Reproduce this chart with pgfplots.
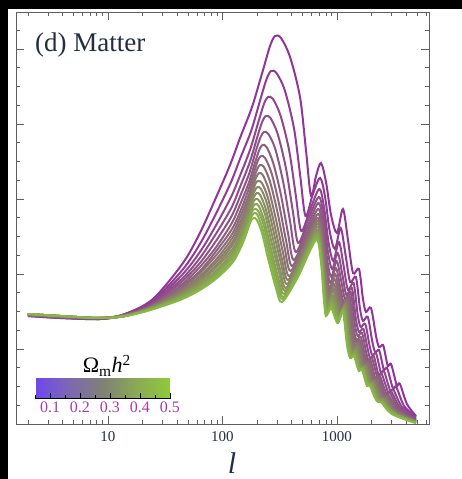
\documentclass[border=0pt]{standalone}
\usepackage{fontspec}
\setmainfont{Liberation Serif}
\usepackage{pgfplots}
\pgfplotsset{compat=1.18}

\definecolor{cP}{RGB}{145,52,155}
\definecolor{cG}{RGB}{134,184,70}
\definecolor{frm}{RGB}{95,95,95}
\definecolor{lab}{RGB}{35,45,70}
\definecolor{cbl}{RGB}{165,60,170}

\pgfplotsset{
  lc/.style={smooth, line width=2pt, no markers},
  /pgf/number format/assume math mode=true,
}

\begin{document}
\begin{tikzpicture}
\useasboundingbox (0,0) rectangle (462pt,479pt);
\fill[black] (0,0) rectangle (8pt,479pt);
\fill[black] (0,470pt) rectangle (462pt,479pt);
\begin{axis}[
  at={(16pt,55pt)}, anchor=south west,
  scale only axis, width=413pt, height=412pt,
  xmode=log, xmin=1.5725, xmax=6362, ymin=0, ymax=412,
  xtick={10,100,1000}, xticklabels={10,100,1000},
  minor xtick={2,3,4,5,6,7,8,9,20,30,40,50,60,70,80,90,200,300,400,500,600,700,800,900,2000,3000,4000,5000,6000},
  ytick={0,75,150,225,300,375}, yticklabels={},
  minor ytick={18.75,37.5,56.25,93.75,112.5,131.25,168.75,187.5,206.25,243.75,262.5,281.25,318.75,337.5,356.25,393.75},
  tick align=inside,
  major tick length=8pt, minor tick length=4.5pt,
  axis line style={draw=frm, line width=0.9pt},
  tick style={draw=frm, line width=0.8pt},
  xticklabel style={font=\fontsize{15}{15}\selectfont, text=lab, yshift=-4pt},
  xlabel={l},
  xlabel style={at={(axis description cs:0.523,-0.119)}, anchor=base, font=\fontsize{30}{30}\selectfont\itshape, text=lab},
  colormap={cbar}{rgb255=(112,70,240) rgb255=(124,104,178) rgb255=(128,128,118) rgb255=(138,170,84) rgb255=(142,202,60)},
  colorbar horizontal,
  colorbar/width=20pt,
  point meta min=0.05, point meta max=0.5,
  colorbar style={
    at={(parent axis.south west)}, anchor=south west, xshift=19pt, yshift=34pt,
    scale only axis, width=135pt,
    axis x line*=bottom, axis y line=none,
    xtick={0.1,0.2,0.3,0.4,0.5}, minor xtick={0.05,0.15,0.25,0.35,0.45},
    xtick align=inside,
    major tick length=6pt, minor tick length=3.5pt,
    tick style={black, line width=0.9pt},
    axis line style={black, line width=1.1pt},
    xticklabel style={font=\fontsize{16}{16}\selectfont, text=cbl,
      /pgf/number format/fixed, /pgf/number format/precision=1},
  },
]
% Omega_m h^2 = 0.1 (top, purple) ... 0.5 (bottom, green); x column is log10(l)
\addplot[lc, draw=cP] table[x expr=10^\thisrowno{0}, y index=1] {
0.301 108
0.581 106
0.930 105
1.148 110
1.393 125
1.655 161
1.803 191
1.934 224
2.066 259
2.153 286
2.258 317
2.354 354
2.415 378
2.459 388
2.511 386
2.590 367
2.677 327
2.729 274
2.773 228
2.817 248
2.860 261
2.904 242
2.948 209
3.000 191
3.052 215
3.096 184
3.140 151
3.192 155
3.227 125
3.253 112
3.297 116
3.341 88
3.367 77
3.402 79
3.428 66
3.445 58
3.472 60
3.507 45
3.524 38
3.550 40
3.611 20
3.690 8
};
\addplot[lc, draw=cG!6!cP] table[x expr=10^\thisrowno{0}, y index=1] {
0.301 108
0.581 106
0.930 105
1.148 110
1.388 123
1.650 154
1.803 180
1.937 209
2.071 241
2.156 266
2.250 293
2.332 325
2.385 345
2.424 353
2.471 351
2.543 334
2.624 296
2.679 248
2.725 208
2.787 229
2.852 246
2.896 227
2.936 193
2.982 175
3.032 196
3.075 169
3.115 142
3.165 147
3.200 116
3.227 103
3.269 107
3.309 82
3.334 72
3.367 74
3.393 62
3.410 54
3.437 56
3.474 41
3.492 35
3.518 37
3.586 18
3.690 7
};
\addplot[lc, draw=cG!13!cP] table[x expr=10^\thisrowno{0}, y index=1] {
0.301 109
0.581 107
0.930 105
1.148 109
1.384 121
1.646 149
1.803 172
1.940 198
2.075 227
2.159 250
2.243 275
2.316 303
2.362 320
2.397 327
2.441 325
2.508 308
2.583 273
2.641 228
2.688 193
2.764 214
2.846 235
2.889 215
2.927 181
2.968 163
3.017 182
3.058 158
3.096 134
3.145 141
3.180 110
3.206 97
3.247 100
3.285 78
3.308 69
3.340 71
3.367 59
3.384 51
3.410 53
3.448 39
3.468 33
3.494 34
3.567 17
3.690 6
};
\addplot[lc, draw=cG!19!cP] table[x expr=10^\thisrowno{0}, y index=1] {
0.301 109
0.581 107
0.930 105
1.148 109
1.382 120
1.644 145
1.803 166
1.942 190
2.077 216
2.160 239
2.239 262
2.304 287
2.346 302
2.378 308
2.419 306
2.482 290
2.554 256
2.614 213
2.662 181
2.747 204
2.841 227
2.885 207
2.921 172
2.958 155
3.006 171
3.046 150
3.082 129
3.130 136
3.165 105
3.192 92
3.231 95
3.268 75
3.290 66
3.321 68
3.347 56
3.364 49
3.391 50
3.430 37
3.451 31
3.477 32
3.553 16
3.690 5
};
\addplot[lc, draw=cG!25!cP] table[x expr=10^\thisrowno{0}, y index=1] {
0.301 109
0.581 107
0.930 106
1.148 109
1.379 119
1.641 142
1.803 161
1.943 183
2.080 208
2.162 230
2.235 251
2.294 274
2.333 287
2.362 292
2.401 290
2.461 275
2.530 242
2.591 202
2.640 172
2.734 195
2.837 221
2.881 200
2.915 164
2.950 147
2.997 163
3.037 143
3.071 125
3.119 132
3.154 101
3.180 88
3.219 91
3.254 72
3.275 64
3.305 66
3.332 55
3.349 48
3.375 48
3.415 35
3.437 30
3.463 31
3.542 15
3.690 4
};
\addplot[lc, draw=cG!31!cP] table[x expr=10^\thisrowno{0}, y index=1] {
0.301 109
0.581 107
0.930 106
1.148 109
1.377 118
1.639 139
1.803 157
1.945 177
2.082 201
2.163 222
2.232 242
2.286 262
2.321 274
2.349 279
2.385 277
2.443 261
2.509 230
2.572 191
2.621 164
2.722 187
2.834 215
2.878 194
2.911 158
2.942 141
2.990 156
3.028 137
3.061 121
3.108 129
3.143 97
3.170 84
3.208 87
3.241 70
3.262 63
3.292 64
3.318 53
3.335 46
3.362 47
3.402 34
3.424 28
3.450 29
3.532 14
3.690 4
};
\addplot[lc, draw=cG!38!cP] table[x expr=10^\thisrowno{0}, y index=1] {
0.301 109
0.581 107
0.930 106
1.148 109
1.376 118
1.638 137
1.803 153
1.946 173
2.083 195
2.164 215
2.229 235
2.279 253
2.311 264
2.338 268
2.372 266
2.428 251
2.492 221
2.556 183
2.606 158
2.713 181
2.832 210
2.875 189
2.907 153
2.937 136
2.983 150
3.021 133
3.054 118
3.100 127
3.135 95
3.161 82
3.199 84
3.231 68
3.252 61
3.281 63
3.307 52
3.324 45
3.351 46
3.392 33
3.414 27
3.440 28
3.525 13
3.690 3
};
\addplot[lc, draw=cG!44!cP] table[x expr=10^\thisrowno{0}, y index=1] {
0.301 109
0.581 107
0.930 106
1.148 109
1.375 117
1.637 135
1.803 151
1.947 169
2.084 190
2.165 210
2.227 228
2.273 245
2.304 255
2.328 259
2.362 257
2.416 242
2.478 213
2.543 176
2.593 153
2.705 176
2.829 206
2.873 185
2.904 149
2.932 132
2.978 145
3.016 129
3.047 116
3.093 125
3.128 92
3.154 79
3.191 82
3.223 67
3.243 60
3.271 61
3.298 50
3.315 44
3.341 44
3.383 32
3.406 27
3.432 27
3.518 13
3.690 3
};
\addplot[lc, draw=cG!50!cP] table[x expr=10^\thisrowno{0}, y index=1] {
0.301 110
0.581 108
0.930 106
1.148 108
1.373 117
1.635 133
1.803 148
1.948 165
2.086 186
2.166 205
2.225 223
2.268 239
2.296 247
2.320 251
2.352 249
2.405 234
2.466 205
2.531 170
2.582 148
2.698 172
2.828 203
2.871 182
2.901 145
2.928 128
2.973 140
3.011 125
3.041 113
3.086 123
3.121 90
3.148 77
3.185 80
3.216 65
3.235 59
3.263 60
3.290 49
3.307 43
3.333 43
3.375 31
3.399 26
3.425 26
3.512 12
3.690 3
};
\addplot[lc, draw=cG!56!cP] table[x expr=10^\thisrowno{0}, y index=1] {
0.301 110
0.581 108
0.930 106
1.148 108
1.372 116
1.634 132
1.803 146
1.948 162
2.087 182
2.167 201
2.223 218
2.263 232
2.290 241
2.313 243
2.344 241
2.395 227
2.454 199
2.521 164
2.572 144
2.691 168
2.826 200
2.869 178
2.899 141
2.924 125
2.969 136
3.006 122
3.036 111
3.081 121
3.116 88
3.142 75
3.179 78
3.209 64
3.228 58
3.256 59
3.283 49
3.300 42
3.326 43
3.368 30
3.392 25
3.418 26
3.507 12
3.690 2
};
\addplot[lc, draw=cG!63!cP] table[x expr=10^\thisrowno{0}, y index=1] {
0.301 110
0.581 108
0.930 106
1.148 108
1.371 116
1.633 130
1.803 144
1.949 159
2.088 179
2.167 197
2.221 213
2.259 227
2.285 234
2.306 237
2.337 235
2.387 221
2.445 193
2.512 160
2.563 140
2.686 164
2.824 197
2.867 176
2.897 139
2.920 122
2.966 133
3.002 119
3.031 110
3.076 119
3.111 87
3.138 74
3.173 76
3.203 63
3.222 57
3.249 58
3.276 48
3.293 41
3.319 42
3.362 29
3.386 25
3.412 25
3.502 12
3.690 2
};
\addplot[lc, draw=cG!69!cP] table[x expr=10^\thisrowno{0}, y index=1] {
0.301 110
0.581 108
0.930 106
1.148 108
1.371 116
1.633 129
1.803 142
1.950 157
2.088 175
2.168 193
2.220 209
2.255 222
2.279 228
2.300 231
2.329 229
2.378 215
2.435 188
2.502 155
2.554 136
2.680 161
2.823 194
2.866 173
2.894 136
2.917 119
2.962 129
2.998 117
3.027 108
3.071 118
3.106 85
3.133 72
3.168 75
3.197 62
3.216 56
3.243 57
3.270 47
3.287 41
3.313 41
3.356 29
3.380 24
3.406 24
3.498 11
3.690 2
};
\addplot[lc, draw=cG!75!cP] table[x expr=10^\thisrowno{0}, y index=1] {
0.301 110
0.581 108
0.930 106
1.148 108
1.370 115
1.632 128
1.803 140
1.950 154
2.089 172
2.168 190
2.219 205
2.252 217
2.274 223
2.294 225
2.323 223
2.371 210
2.426 183
2.495 151
2.547 133
2.676 158
2.822 192
2.865 170
2.893 133
2.914 117
2.959 126
2.995 114
3.023 106
3.067 117
3.102 84
3.129 71
3.164 73
3.192 61
3.210 56
3.237 57
3.264 46
3.281 40
3.307 40
3.350 28
3.375 24
3.401 24
3.494 11
3.690 2
};
\addplot[lc, draw=cG!81!cP] table[x expr=10^\thisrowno{0}, y index=1] {
0.301 110
0.581 108
0.930 106
1.148 108
1.369 115
1.631 127
1.803 138
1.951 152
2.090 169
2.169 187
2.217 201
2.249 213
2.270 218
2.289 220
2.317 218
2.363 204
2.418 178
2.487 146
2.539 130
2.671 155
2.820 190
2.863 168
2.891 130
2.911 114
2.956 123
2.991 112
3.019 105
3.063 115
3.098 83
3.124 70
3.159 72
3.187 60
3.205 55
3.232 56
3.259 46
3.276 40
3.302 40
3.345 27
3.370 23
3.396 23
3.490 11
3.690 2
};
\addplot[lc, draw=cG!88!cP] table[x expr=10^\thisrowno{0}, y index=1] {
0.301 110
0.581 108
0.930 106
1.148 108
1.368 115
1.630 126
1.803 137
1.951 150
2.091 167
2.169 184
2.216 198
2.246 209
2.266 214
2.284 215
2.312 213
2.357 200
2.411 174
2.480 143
2.533 127
2.667 152
2.819 188
2.862 166
2.889 128
2.909 112
2.953 121
2.989 110
3.016 104
3.059 114
3.094 81
3.121 68
3.155 70
3.183 60
3.201 54
3.227 55
3.254 45
3.271 39
3.297 39
3.341 27
3.366 23
3.392 23
3.487 11
3.690 1
};
\addplot[lc, draw=cG!94!cP] table[x expr=10^\thisrowno{0}, y index=1] {
0.301 110
0.581 108
0.930 106
1.148 108
1.368 114
1.630 125
1.803 135
1.952 148
2.091 164
2.170 182
2.215 195
2.243 205
2.262 209
2.280 211
2.306 209
2.351 195
2.404 170
2.474 139
2.526 125
2.663 150
2.818 186
2.861 164
2.888 126
2.906 110
2.951 118
2.986 108
3.012 102
3.056 113
3.091 80
3.117 67
3.152 69
3.179 59
3.196 54
3.223 55
3.250 45
3.267 39
3.293 39
3.336 26
3.362 22
3.388 22
3.483 10
3.690 1
};
\addplot[lc, draw=cG] table[x expr=10^\thisrowno{0}, y index=1] {
0.301 110
0.581 108
0.930 106
1.148 108
1.367 114
1.629 124
1.803 134
1.952 146
2.092 162
2.170 179
2.214 192
2.240 201
2.258 205
2.275 206
2.301 204
2.345 191
2.397 166
2.467 136
2.520 122
2.659 147
2.817 184
2.860 162
2.886 124
2.904 108
2.948 116
2.983 106
3.009 101
3.052 112
3.087 79
3.114 66
3.148 68
3.175 58
3.192 53
3.218 54
3.245 44
3.262 38
3.288 38
3.332 26
3.358 22
3.384 22
3.480 10
3.690 1
};
\node[anchor=base west, inner sep=0, font=\fontsize{27}{27}\selectfont, text=lab]
  at (rel axis cs:0.046,0.903) {(d) Matter};
\node[anchor=base, inner sep=0, font=\fontsize{22}{22}\selectfont]
  at (rel axis cs:0.220,0.124) {Ω\textsubscript{m}\textit{h}\textsuperscript{2}};
\end{axis}
\end{tikzpicture}
\end{document}
